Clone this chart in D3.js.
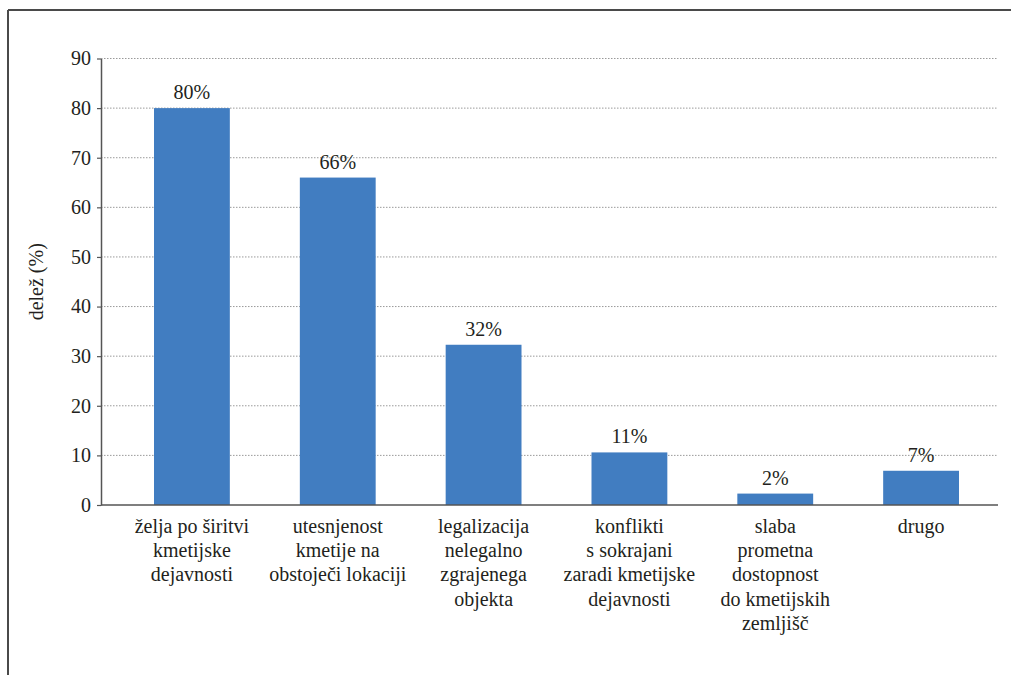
<!DOCTYPE html>
<html>
<head>
<meta charset="utf-8">
<title>Delež</title>
<script src="https://d3js.org/d3.v7.min.js"></script>
<style>
  body { margin: 0; background: #fff; }
</style>
</head>
<body>
<div id="chart"></div>
<script>
// chart data
var categories = [
  ["želja po širitvi", "kmetijske", "dejavnosti"],
  ["utesnjenost", "kmetije na", "obstoječi lokaciji"],
  ["legalizacija", "nelegalno", "zgrajenega", "objekta"],
  ["konflikti", "s sokrajani", "zaradi kmetijske", "dejavnosti"],
  ["slaba", "prometna", "dostopnost", "do kmetijskih", "zemljišč"],
  ["drugo"]
];
var values = [80, 66, 32.3, 10.6, 2.3, 6.9];
var yTicks = [0, 10, 20, 30, 40, 50, 60, 70, 80, 90];
var yTitle = "delež (%)";

var FONT = "'Liberation Serif'";
var W = 1011, H = 675;
var svg = d3.select("#chart").append("svg")
    .attr("width", W)
    .attr("height", H);

// frame (top + left)
svg.append("line").attr("x1", 8).attr("x2", W).attr("y1", 10).attr("y2", 10)
    .attr("stroke", "#4a4a4a").attr("stroke-width", 2);
svg.append("line").attr("x1", 8).attr("x2", 8).attr("y1", 10).attr("y2", H)
    .attr("stroke", "#4a4a4a").attr("stroke-width", 2);

// plot area
var pLeft = 101, pRight = 998, pTop = 58.5, pBottom = 505;

var x = d3.scaleBand()
    .domain(d3.range(categories.length))
    .range([119, 994])
    .paddingInner(0.48)
    .paddingOuter(0.24);
var y = d3.scaleLinear().domain([0, 90]).range([pBottom, pTop]);

// gridlines
svg.append("g").selectAll("line")
    .data(yTicks.filter(function(d) { return d > 0; }))
    .enter().append("line")
    .attr("x1", pLeft).attr("x2", pRight)
    .attr("y1", function(d) { return y(d); })
    .attr("y2", function(d) { return y(d); })
    .attr("stroke", "#9a9a9a")
    .attr("stroke-width", 1)
    .attr("stroke-dasharray", "1.5,1.5");

// bars
svg.append("g").selectAll("rect")
    .data(values)
    .enter().append("rect")
    .attr("x", function(d, i) { return x(i); })
    .attr("width", x.bandwidth())
    .attr("y", function(d) { return y(d); })
    .attr("height", function(d) { return pBottom - y(d); })
    .attr("fill", "#417dc1");

// value labels
svg.append("g").selectAll("text")
    .data(values)
    .enter().append("text")
    .attr("x", function(d, i) { return x(i) + x.bandwidth() / 2; })
    .attr("y", function(d) { return y(d) - 9; })
    .attr("text-anchor", "middle")
    .style("font-family", FONT)
    .style("font-size", "20px")
    .attr("fill", "#231f20")
    .text(function(d) { return Math.round(d) + "%"; });

// y axis
var yAxis = svg.append("g")
    .attr("transform", "translate(" + pLeft + ",0)")
    .call(d3.axisLeft(y).tickValues(yTicks).tickSize(4).tickPadding(6).tickSizeOuter(0));
yAxis.select(".domain").attr("stroke", "#555").attr("stroke-width", 1.5);
yAxis.selectAll(".tick line").attr("stroke", "#555").attr("stroke-width", 1.2);
yAxis.selectAll(".tick text").style("font-size", "20px")
    .style("font-family", FONT).attr("fill", "#231f20");

// x axis baseline
svg.append("line").attr("x1", pLeft).attr("x2", pRight)
    .attr("y1", pBottom).attr("y2", pBottom)
    .attr("stroke", "#555").attr("stroke-width", 1.5);

// category labels
var cat = svg.append("g").selectAll("text")
    .data(categories)
    .enter().append("text")
    .attr("text-anchor", "middle")
    .attr("fill", "#231f20")
    .style("font-family", FONT)
    .style("font-size", "20px");
cat.selectAll("tspan")
    .data(function(d, i) { return d.map(function(s) { return { s: s, i: i }; }); })
    .enter().append("tspan")
    .attr("x", function(d) { return x(d.i) + x.bandwidth() / 2; })
    .attr("y", function(d, j) { return 533 + j * 24.2; })
    .text(function(d) { return d.s; });

// y title
svg.append("text")
    .attr("transform", "translate(43," + ((pTop + pBottom) / 2) + ") rotate(-90)")
    .attr("text-anchor", "middle")
    .attr("fill", "#231f20")
    .style("font-family", FONT)
    .style("font-size", "20px")
    .text(yTitle);
</script>
</body>
</html>
